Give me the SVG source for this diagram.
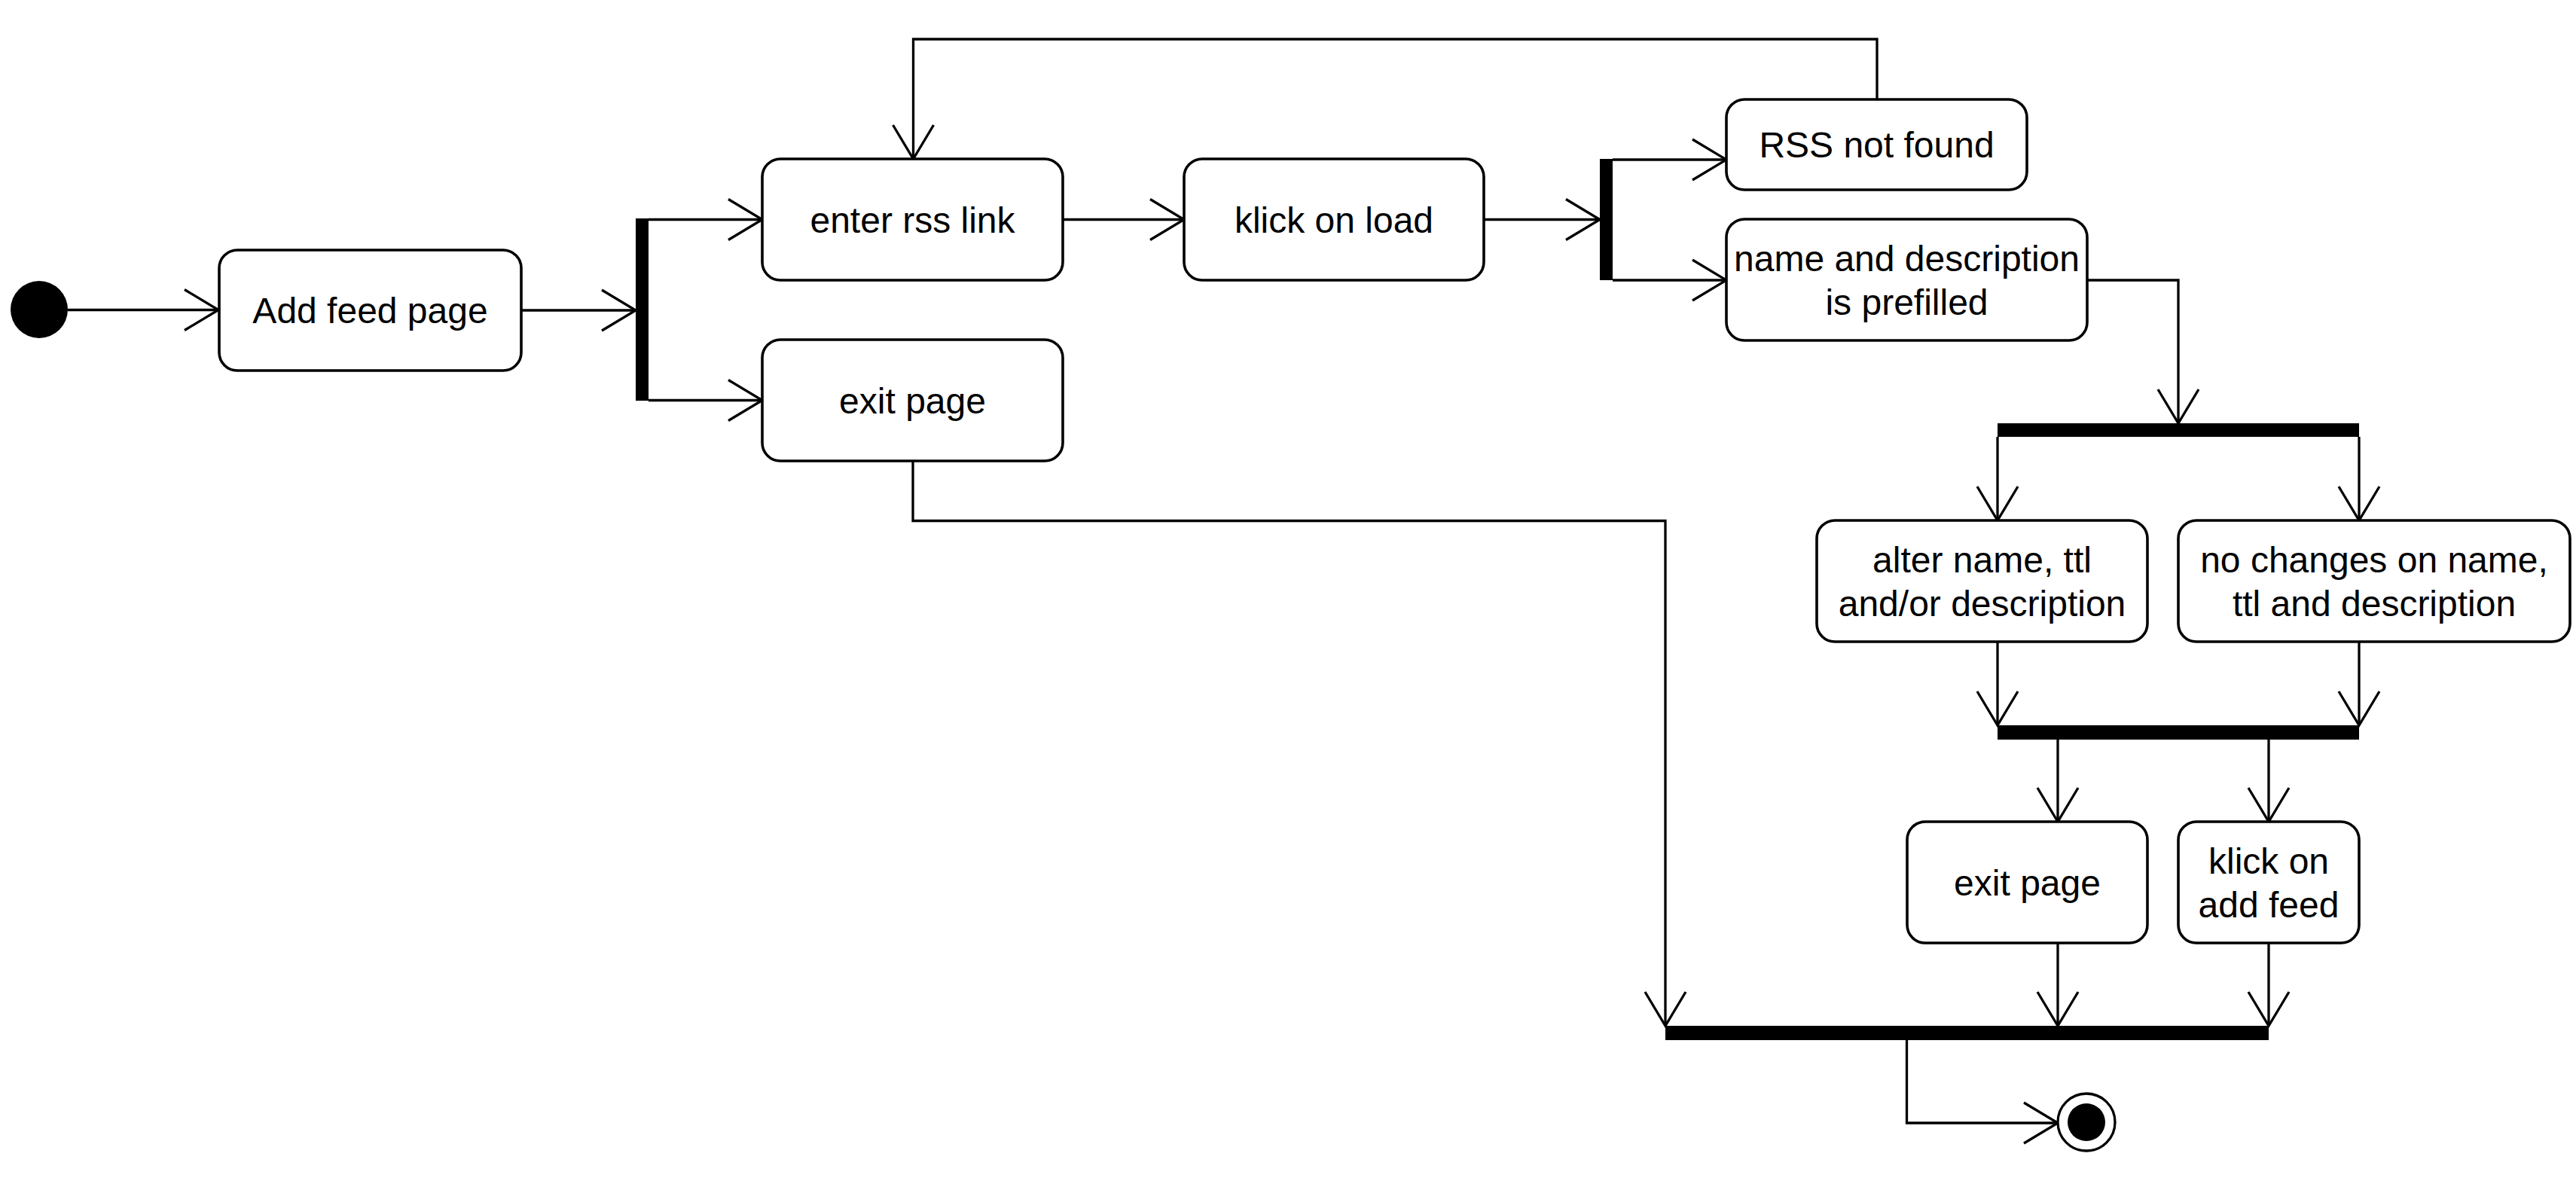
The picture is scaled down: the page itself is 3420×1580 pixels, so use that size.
<svg xmlns="http://www.w3.org/2000/svg" width="3420" height="1580" viewBox="0 0 3420 1580">
<style>
.box{fill:#fff;stroke:#000;stroke-width:3.6}
.bar{fill:#000}
.lbl{font-family:"Liberation Sans",Arial,sans-serif;font-size:48px;fill:#000;text-anchor:middle}
.con{fill:none;stroke:#000;stroke-width:3.3;marker-end:url(#open)}
</style>
<defs>
<marker id="open" markerUnits="userSpaceOnUse" viewBox="-50 -32 54 64" markerWidth="54" markerHeight="64" refX="0" refY="0" orient="auto">
<path d="M-45,-27 L0,0 L-45,27" fill="none" stroke="#000" stroke-width="3.3"/>
</marker>
</defs>
<rect width="3420" height="1580" fill="#fff"/>
<g id="connectors">
<path class="con" d="M90,411.5 H290"/>
<path class="con" d="M692,412 H844"/>
<path class="con" d="M861,291.5 H1012"/>
<path class="con" d="M861,531.5 H1012"/>
<path class="con" d="M1410,291.5 H1572"/>
<path class="con" d="M1970,291.5 H2124"/>
<path class="con" d="M2141,212 H2292"/>
<path class="con" d="M2141,372 H2292"/>
<path class="con" d="M2492,132 V52 H1212.5 V211"/>
<path class="con" d="M2771,372 H2892 V562"/>
<path class="con" d="M2652,580 V691"/>
<path class="con" d="M3132,580 V691"/>
<path class="con" d="M2652,852 V963"/>
<path class="con" d="M3132,852 V963"/>
<path class="con" d="M2732,982 V1091"/>
<path class="con" d="M3012,982 V1091"/>
<path class="con" d="M1212,612 V691.5 H2211 V1362"/>
<path class="con" d="M2732,1252 V1362"/>
<path class="con" d="M3012,1252 V1362"/>
<path class="con" d="M2531.5,1381 V1491 H2732"/>
</g>
<g id="start"><circle cx="52" cy="411" r="38" fill="#000"/></g>
<g id="addFeed"><rect class="box" x="291" y="332" width="401" height="160" rx="24"/><text class="lbl" x="491.5" y="429">Add feed page</text></g>
<g id="fork1"><rect class="bar" x="844" y="290" width="17" height="242"/></g>
<g id="enterRss"><rect class="box" x="1012" y="211" width="399" height="161" rx="24"/><text class="lbl" x="1211.5" y="308.5">enter rss link</text></g>
<g id="exitPage1"><rect class="box" x="1012" y="451" width="399" height="161" rx="24"/><text class="lbl" x="1211.5" y="548.5">exit page</text></g>
<g id="klickLoad"><rect class="box" x="1572" y="211" width="398" height="161" rx="24"/><text class="lbl" x="1771" y="308.5">klick on load</text></g>
<g id="fork2"><rect class="bar" x="2124" y="211" width="17" height="161"/></g>
<g id="rssNotFound"><rect class="box" x="2292" y="132" width="399" height="120" rx="24"/><text class="lbl" x="2491.5" y="209">RSS not found</text></g>
<g id="nameDesc"><rect class="box" x="2292" y="291" width="479" height="161" rx="24"/><text class="lbl" x="2531.5" y="359.5">name and description</text><text class="lbl" x="2531.5" y="417.5">is prefilled</text></g>
<g id="fork3"><rect class="bar" x="2652" y="562" width="480" height="18"/></g>
<g id="alter"><rect class="box" x="2412" y="691" width="439" height="161" rx="24"/><text class="lbl" x="2631.5" y="759.5">alter name, ttl</text><text class="lbl" x="2631.5" y="817.5">and/or description</text></g>
<g id="noChanges"><rect class="box" x="2892" y="691" width="520" height="161" rx="24"/><text class="lbl" x="3152" y="759.5">no changes on name,</text><text class="lbl" x="3152" y="817.5">ttl and description</text></g>
<g id="join4"><rect class="bar" x="2652" y="963" width="480" height="19"/></g>
<g id="exitPage2"><rect class="box" x="2532" y="1091" width="319" height="161" rx="24"/><text class="lbl" x="2691.5" y="1188.5">exit page</text></g>
<g id="klickAdd"><rect class="box" x="2892" y="1091" width="240" height="161" rx="24"/><text class="lbl" x="3012" y="1159.5">klick on</text><text class="lbl" x="3012" y="1217.5">add feed</text></g>
<g id="join5"><rect class="bar" x="2211" y="1362" width="801" height="19"/></g>
<g id="end"><circle cx="2770" cy="1490" r="38" fill="#fff" stroke="#000" stroke-width="3.3"/><circle cx="2770" cy="1490" r="25" fill="#000"/></g>
</svg>
